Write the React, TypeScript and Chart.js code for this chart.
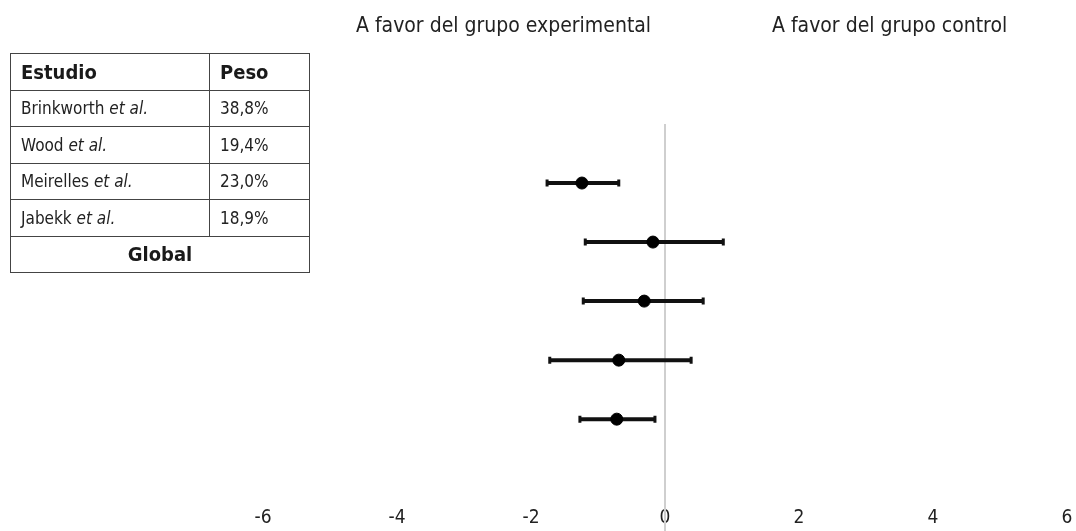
import React, { useEffect, useRef } from "react";
import { Chart, registerables } from "chart.js";

Chart.register(...registerables);

const studies = ["Brinkworth", "Wood", "Meirelles", "Jabekk"];
const weights = ["38,8%", "19,4%", "23,0%", "18,9%"];
const rows = [1, 2, 3, 4, 5];
const estimates = [-1.24, -0.18, -0.31, -0.69, -0.72];
const lower = [-1.76, -1.19, -1.22, -1.72, -1.27];
const upper = [-0.69, 0.87, 0.57, 0.39, -0.15];
const xTicks = [-6, -4, -2, 0, 2, 4, 6];
const leftHeader = "A favor del grupo experimental";
const rightHeader = "A favor del grupo control";

const NARROW = '"Liberation Sans Narrow", "DejaVu Sans Condensed", "Liberation Sans", sans-serif';

const errorBars = {
  id: "errorBars",
  beforeDatasetsDraw(chart: any) {
    const { ctx, scales, chartArea } = chart;
    const xs = scales.x;
    const ys = scales.y;
    const x0 = xs.getPixelForValue(0);
    ctx.save();
    ctx.strokeStyle = "#cfcfcf";
    ctx.lineWidth = 2;
    ctx.beginPath();
    ctx.moveTo(x0, chartArea.top);
    ctx.lineTo(x0, chart.height);
    ctx.stroke();
    ctx.strokeStyle = "#111";
    rows.forEach((r, i) => {
      const y = ys.getPixelForValue(r);
      const xl = xs.getPixelForValue(lower[i]);
      const xu = xs.getPixelForValue(upper[i]);
      ctx.lineWidth = 4;
      ctx.beginPath();
      ctx.moveTo(xl, y);
      ctx.lineTo(xu, y);
      ctx.stroke();
      ctx.lineWidth = 3;
      ctx.beginPath();
      ctx.moveTo(xl, y - 3.5);
      ctx.lineTo(xl, y + 3.5);
      ctx.moveTo(xu, y - 3.5);
      ctx.lineTo(xu, y + 3.5);
      ctx.stroke();
    });
    ctx.restore();
  },
};

export default function App() {
  const ref = useRef<HTMLCanvasElement>(null);
  useEffect(() => {
    if (!ref.current) return;
    const chart = new Chart(ref.current, {
      type: "scatter",
      data: {
        datasets: [
          {
            data: rows.map((r, i) => ({ x: estimates[i], y: r })),
            backgroundColor: "#000",
            borderColor: "#000",
            pointRadius: 6,
            pointHoverRadius: 6,
          },
        ],
      },
      options: {
        animation: false,
        responsive: false,
        events: [],
        layout: { padding: { left: 263, right: 9, top: 124, bottom: 0 } },
        plugins: { legend: { display: false }, tooltip: { enabled: false } },
        scales: {
          x: {
            type: "linear",
            min: -6,
            max: 6,
            afterBuildTicks: (s: any) => {
              s.ticks = xTicks.map((v) => ({ value: v }));
            },
            grid: {
              display: true,
              drawOnChartArea: false,
              drawTicks: true,
              tickLength: 26,
              color: "rgba(0,0,0,0)",
            },
            border: { display: false },
            ticks: {
              padding: 2,
              color: "#222",
              font: { family: NARROW, size: 19 },
            },
          },
          y: {
            type: "linear",
            min: 0,
            max: 6,
            reverse: true,
            display: false,
          },
        },
      },
      plugins: [errorBars],
    });
    return () => chart.destroy();
  }, []);

  const cell: React.CSSProperties = {
    border: "1.5px solid #444",
    height: 36.5,
    padding: "0 0 0 10px",
    boxSizing: "border-box",
    fontFamily: NARROW,
    fontSize: 17,
    color: "#222",
  };
  const head: React.CSSProperties = {
    ...cell,
    fontFamily: '"DejaVu Sans Condensed", "Liberation Sans", Arial, sans-serif',
    fontWeight: "bold",
    fontSize: 20,
    textAlign: "left",
    color: "#1a1a1a",
  };

  return (
    <div style={{ position: "fixed", left: 0, top: 0, width: 1076, height: 531, background: "#fff" }}>
      <canvas ref={ref} width={1076} height={531} style={{ position: "absolute", left: 0, top: 0 }} />
      <div style={{ position: "absolute", left: 356, top: 13, fontFamily: NARROW, fontSize: 21, color: "#222" }}>
        {leftHeader}
      </div>
      <div style={{ position: "absolute", left: 772, top: 13, fontFamily: NARROW, fontSize: 21, color: "#222" }}>
        {rightHeader}
      </div>
      <table
        style={{
          position: "absolute",
          left: 10,
          top: 53,
          width: 299,
          borderCollapse: "collapse",
          tableLayout: "fixed",
        }}
      >
        <colgroup>
          <col style={{ width: 199 }} />
          <col style={{ width: 100 }} />
        </colgroup>
        <tbody>
          <tr>
            <th style={head}>Estudio</th>
            <th style={head}>Peso</th>
          </tr>
          {studies.map((s, i) => (
            <tr key={s}>
              <td style={cell}>
                {s} <i>et al.</i>
              </td>
              <td style={cell}>{weights[i]}</td>
            </tr>
          ))}
          <tr>
            <td colSpan={2} style={{ ...head, textAlign: "center", padding: 0 }}>
              Global
            </td>
          </tr>
        </tbody>
      </table>
    </div>
  );
}
